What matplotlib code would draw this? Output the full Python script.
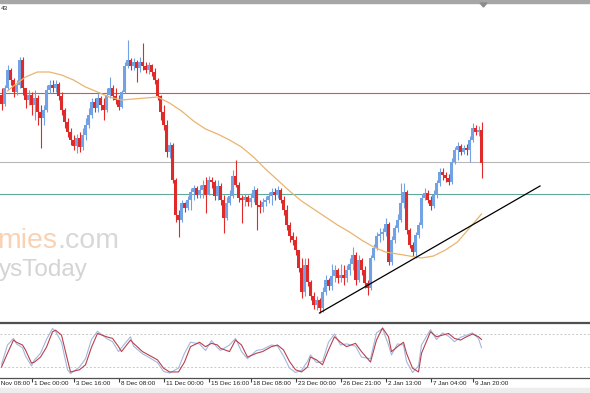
import matplotlib.pyplot as plt
import matplotlib.transforms as mtransforms
from matplotlib.patches import Rectangle, Polygon

# H4 candles, price in points
first_open = 905
closes = [896, 912, 930, 920, 908, 915, 940, 912, 900, 905,
          895, 902, 888, 882, 890, 910, 915, 912, 916, 904,
          890, 878, 868, 860, 854, 862, 853, 865, 875, 885,
          898, 892, 902, 895, 890, 905, 912, 904, 900, 893,
          908, 934, 940, 934, 938, 932, 938, 934, 930, 935,
          928, 920, 904, 888, 875, 848, 855, 820, 785, 780,
          797, 792, 800, 808, 812, 805, 810, 815, 805, 820,
          818, 804, 814, 800, 782, 797, 804, 824, 815, 802,
          800, 803, 798, 802, 810, 795, 793, 798, 800, 804,
          808, 805, 810, 800, 790, 775, 764, 760, 750, 732,
          708, 735, 718, 704, 695, 700, 692, 708, 720, 714,
          724, 730, 722, 725, 722, 730, 736, 745, 720, 740,
          730, 717, 712, 742, 752, 764, 766, 768, 776, 738,
          760, 772, 780, 797, 808, 770, 755, 748, 765, 775,
          802, 807, 800, 794, 805, 817, 828, 825, 822, 818,
          838, 850, 854, 848, 852, 850, 860, 872, 868, 870,
          837]
highs = [912, 915, 935, 932, 922, 920, 943, 943, 912, 910,
         908, 910, 905, 895, 895, 915, 920, 920, 920, 918,
         908, 892, 882, 872, 865, 866, 868, 872, 882, 892,
         902, 902, 907, 904, 902, 912, 923, 915, 912, 905,
         910, 938, 960, 942, 942, 940, 943, 957, 938, 938,
         936, 932, 922, 905, 895, 880, 858, 857, 822, 790,
         800, 798, 804, 812, 815, 814, 815, 820, 823, 824,
         823, 820, 820, 817, 805, 803, 810, 830, 840, 818,
         805, 806, 805, 807, 814, 812, 800, 802, 804, 808,
         812, 812, 814, 812, 804, 795, 778, 768, 764, 750,
         742, 742, 742, 720, 708, 704, 702, 713, 725, 722,
         736, 735, 732, 736, 735, 735, 742, 753, 748, 745,
         742, 734, 720, 745, 756, 768, 772, 772, 782, 778,
         764, 775, 786, 817, 817, 810, 772, 758, 768, 778,
         806, 812, 810, 804, 810, 820, 832, 832, 828, 826,
         842, 853, 858, 856, 855, 856, 864, 877, 875, 874,
         878]
lows = [890, 894, 910, 915, 903, 905, 912, 905, 892, 895,
        885, 880, 875, 852, 875, 888, 907, 908, 908, 900,
        885, 872, 863, 855, 850, 847, 848, 850, 860, 872,
        882, 888, 888, 890, 880, 888, 902, 900, 896, 890,
        892, 907, 932, 930, 930, 918, 928, 930, 927, 926,
        924, 916, 900, 880, 870, 843, 842, 817, 778, 763,
        778, 788, 790, 790, 800, 802, 802, 802, 787, 805,
        812, 800, 800, 795, 767, 780, 795, 802, 813, 798,
        777, 794, 794, 793, 798, 770, 787, 788, 794, 797,
        795, 800, 802, 797, 785, 770, 758, 755, 745, 728,
        702, 704, 714, 700, 691, 690, 687, 688, 705, 710,
        710, 718, 717, 718, 715, 718, 725, 730, 715, 718,
        725, 712, 705, 710, 740, 750, 758, 760, 764, 735,
        735, 757, 768, 778, 792, 766, 752, 744, 742, 762,
        772, 800, 797, 790, 792, 802, 814, 820, 818, 815,
        816, 836, 840, 845, 846, 845, 838, 858, 865, 864,
        822]

# moving average, read every 4 bars
ma_bars = [2, 4, 8, 12, 16, 20, 24, 28, 32, 36, 40, 44, 48, 52, 56, 60, 64, 68, 72, 76,
           80, 84, 88, 92, 96, 100, 104, 108, 112, 116, 120, 124, 128, 132, 136, 140,
           144, 148, 152, 156, 160]
ma_vals = [909, 914, 923, 928, 928, 925, 920, 913, 908, 903, 900, 901, 902, 903, 897, 889,
           879, 871, 866, 860, 853, 843, 831, 820, 809, 799, 791, 783, 775, 768, 760, 753,
           748, 746, 744, 742, 744, 750, 758, 772, 786]

# horizontal levels and trendline
level_red = 907
level_gray = 838
level_teal = 806
trend_bars = [106, 179.5]
trend_vals = [687, 814]

# stochastic
stoch_bars = [0, 2, 4, 5, 7, 8, 10, 11, 13, 15, 17, 18, 20, 22, 23, 26, 28, 30, 32, 35,
              37, 39, 40, 43, 44, 47, 49, 52, 54, 56, 59, 61, 63, 66, 68, 70, 72, 73, 76, 78,
              80, 82, 85, 87, 90, 92, 94, 96, 98, 100, 102, 103, 105, 107, 109, 111, 113, 115, 118, 120,
              123, 125, 127, 129, 130, 132, 134, 135, 137, 139, 140, 143, 145, 147, 149, 151, 153, 155, 157, 159,
              160]
stoch_main = [25, 60, 72, 62, 55, 40, 22, 33, 45, 70, 90, 85, 65, 15, 8, 20, 35, 70, 85, 72,
              66, 48, 55, 75, 58, 44, 38, 28, 12, 9, 18, 45, 65, 62, 50, 68, 55, 50, 60, 72,
              48, 35, 50, 52, 60, 58, 40, 18, 10, 14, 30, 42, 28, 30, 65, 80, 60, 62, 58, 38,
              35, 82, 90, 60, 42, 62, 60, 30, 10, 22, 60, 88, 70, 82, 76, 66, 74, 78, 82, 72,
              55]
stoch_signal = [20, 45, 69, 65, 60, 51, 27, 29, 38, 56, 84, 87, 78, 33, 11, 15, 24, 56, 81, 75,
                72, 57, 48, 69, 63, 48, 42, 33, 18, 11, 11, 29, 57, 65, 57, 63, 60, 54, 48, 69,
                60, 38, 45, 48, 57, 60, 51, 30, 15, 11, 20, 38, 33, 24, 51, 75, 65, 57, 63, 48,
                29, 69, 91, 75, 48, 57, 65, 45, 18, 11, 45, 84, 75, 78, 81, 72, 69, 75, 80, 75,
                70]

tick_bars = [-4, 10, 24, 39, 54, 69, 83, 98, 113, 128, 143, 157]
tick_labels = ['28 Nov 08:00', '1 Dec 00:00', '3 Dec 16:00', '8 Dec 08:00', '11 Dec 00:00',
               '15 Dec 16:00', '18 Dec 08:00', '23 Dec 00:00', '26 Dec 21:00', '2 Jan 13:00',
               '7 Jan 04:00', '9 Jan 20:00']

W, H = 590, 393
BLUE = '#72a2e4'
RED = '#e02a2a'


def fy(py):
    return 1 - py / H


fig = plt.figure(figsize=(W / 100, H / 100), dpi=100)
fig.patch.set_facecolor('white')

# main price panel
ax = fig.add_axes([0, fy(318), 1, 315 / H])
ax.set_xlim(-0.5, -0.5 + W / 3)
ax.set_ylim(682, 997)
ax.axis('off')

opens = [first_open] + closes[:-1]
idx = list(range(len(closes)))
cols = [BLUE if c >= o else RED for o, c in zip(opens, closes)]
bottoms = [min(o, c) for o, c in zip(opens, closes)]
heights = [max(abs(c - o), 1) for o, c in zip(opens, closes)]

ax.axhline(level_red, color='#c85a5a', lw=0.8, zorder=1)
ax.axhline(level_gray, color='#b8b8b8', lw=0.8, zorder=1)
ax.axhline(level_teal, color='#62a79c', lw=0.8, zorder=1)

ax.vlines(idx, lows, highs, colors=cols, lw=0.8, zorder=3)
ax.bar(idx, heights, bottom=bottoms, width=0.72, color=cols, linewidth=0, zorder=3)

ax.plot(ma_bars, ma_vals, color='#eab46e', lw=0.9, zorder=4)
ax.plot(trend_bars, trend_vals, color='black', lw=0.9, zorder=5)

# watermark, cut at the left edge like the screenshot
wm = dict(family='Liberation Sans', va='baseline', ha='left', zorder=0)
t1 = fig.text(-3 / W, fy(248), 'mies', fontsize=20.5, color='#f9d2b4', **wm)
fig.canvas.draw()
bb = t1.get_window_extent()
fig.text(bb.x1 / W + 0.5 / W, fy(248), '.com', fontsize=20.5, color='#d8d8d8', **wm)
fig.text(-1 / W, fy(276), 'ysToday', fontsize=17.5, color='#d4d4d4', **wm)

# stochastic panel
ax2 = fig.add_axes([0, fy(378), 1, 55 / H])
ax2.set_xlim(-0.5, -0.5 + W / 3)
ax2.set_ylim(0, 100)
for s in ['left', 'right']:
    ax2.spines[s].set_visible(False)
ax2.spines['top'].set_color('#505050')
ax2.spines['top'].set_linewidth(1.6)
ax2.spines['bottom'].set_color('#505050')
ax2.spines['bottom'].set_linewidth(0.9)
ax2.set_yticks([])
ax2.set_xticks([b for b in tick_bars if b >= 0])
ax2.tick_params(axis='x', direction='out', length=3, width=0.8, color='#404040', labelbottom=False)
ax2.axhline(80, color='#c8c8c8', lw=0.7, ls=(0, (2, 2)))
ax2.axhline(20, color='#c8c8c8', lw=0.7, ls=(0, (2, 2)))
ax2.plot(stoch_bars, stoch_main, color='#a3b8de', lw=0.8)
ax2.plot(stoch_bars, stoch_signal, color='#b8404e', lw=0.8)

trans = mtransforms.blended_transform_factory(ax2.transData, ax2.transAxes)
for b, lab in zip(tick_bars, tick_labels):
    ax2.text(b + 0.7, -0.05, lab, transform=trans, ha='left', va='top',
             fontsize=4.6, family='Liberation Sans', color='#202020', clip_on=False)

# window bits: top bar, shift marker, status strip, symbol text
fig.patches.append(Rectangle((0, fy(3)), 1, 3 / H, transform=fig.transFigure,
                             color='#a6a6a6', zorder=10))
fig.patches.append(Polygon([(480 / W, fy(3)), (487 / W, fy(3)), (483.5 / W, fy(7))],
                           closed=True, transform=fig.transFigure, color='#8c8c8c', zorder=10))
fig.patches.append(Rectangle((0, 0), 1, 5 / H, transform=fig.transFigure,
                             color='#ededed', zorder=10))
fig.text(0.5 / W, fy(8.5), '43', fontsize=4.6, family='Liberation Sans', va='center', color='#202020')

fig.savefig('out.png', dpi=100)
